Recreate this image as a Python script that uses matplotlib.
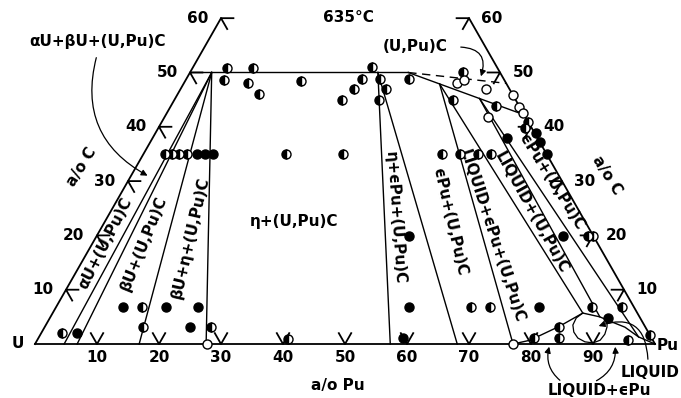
import numpy as np
import matplotlib.pyplot as plt

# U-Pu-C isothermal section at 635 C, compositions in a/o Pu and a/o C
S3 = np.sqrt(3) / 2


def tern(pu, c):
    pu = np.asarray(pu, float)
    c = np.asarray(c, float)
    return pu + c / 2, c * S3


def P(px, py):
    # label placement helper, pixel position -> axes data
    return (px - 35) / 6.2, (344 - py) / 6.27


# experimental points (a/o Pu, a/o C)
half_pu = [5.6, 9.8, 28.8, 6.2, 10.3, 13.1, 18.7, 27.1, 28.0, 28.3, 31.2, 33.1, 33.0, 35.9,
           44.0, 45.0, 52.5, 59.0, 59.1,
           3.5, 4.6, 5.7, 7.0, 23.0, 32.2, 48.1, 51.0, 54.0, 56.0,
           79.2, 80.0, 13.9, 66.9, 70.0, 86.4, 91.3, 15.9, 26.8, 83.0, 3.3,
           79.9, 83.9, 40.4, 95.3, 98.4]
half_c = [50.8, 50.8, 51.0, 48.6, 48.1, 46.0, 48.4, 44.9, 47.0, 48.8, 48.8, 47.0, 44.9, 48.8,
          50.1, 44.9, 43.8, 40.9, 39.8,
          35, 35, 35, 35, 35, 35, 35, 35, 35, 35,
          19.9, 19.9, 6.8, 6.8, 6.8, 6.8, 6.8, 3.1, 3.1, 3.1, 2.0,
          1.1, 1.1, 0.9, 0.7, 1.7]
full_pu = [57.2, 61.3, 62.9, 65.1, 8.6, 9.9, 11.2, 50.4, 75.2, 10.8, 17.7, 22.9, 56.9, 77.9,
           23.4, 90.0, 5.8, 58.8]
full_c = [37.9, 38.9, 37.2, 35.0, 35, 35, 35, 19.9, 19.9, 6.8, 6.8, 6.8, 6.8, 6.8,
          3.1, 4.8, 2.0, 1.1]
open_pu = [44.0, 44.9, 49.2, 52.2, 54.1, 56.3, 57.5, 27.7, 77.1]
open_c = [48.1, 48.6, 47.0, 41.8, 45.9, 43.6, 42.5, 0.0, 0.0]

# phase boundaries: (pu1, c1) -> (pu2, c2)
seg_pu1 = [0.0, 3.5, 3.5, 3.5, 3.5, 30.3, 30.3, 35.2, 41.3, 41.3, 49.1, 49.1]
seg_c1 = [50, 50, 50, 50, 50, 50, 50, 50, 47.9, 47.9, 45.2, 45.2]
seg_pu2 = [35.2, 4.7, 6.8, 16.8, 27.6, 57.3, 68.1, 57.8, 77.1, 85.5, 88.6, 96.7]
seg_c2 = [50, 0, 0, 0, 0, 0, 0, 42.2, 0, 5.7, 5.0, 1.3]
dash_pu = [35.2, 52.0]
dash_c = [50, 48]

# liquid boundary and the small liquid loop
liq_pu = [77.1, 79.5, 83.0, 85.5, 88.6, 90.1, 93.6, 96.7, 100]
liq_c = [0, 0.7, 3.3, 5.7, 5.0, 4.4, 3.1, 1.3, 0]
loop_pu = [85.5, 84.9, 85.0, 85.8, 87.0, 88.5, 89.9, 90.8, 91.0, 90.7, 90.1]
loop_c = [5.7, 4.8, 3.5, 2.2, 1.1, 0.4, 0.2, 0.7, 1.8, 3.1, 4.4]

ticks = [10, 20, 30, 40, 50, 60, 70, 80, 90]
c_ticks = [10, 20, 30, 40, 50, 60]

plt.rcParams['font.weight'] = 'bold'

fig = plt.figure(figsize=(6.81, 3.98), dpi=100)
ax = fig.add_axes([0, 0, 1, 1])
ax.set_xlim(-5.645, 104.19)
ax.set_ylim(-8.61, 54.86)
ax.axis('off')

lk = dict(color='black', lw=1.3)
# edges
ax.plot(*tern([0, 0], [0, 60]), **lk)
ax.plot(*tern([40, 100], [60, 0]), **lk)
ax.plot(*tern([0, 100], [0, 0]), **lk)

for a, b, c, d in zip(seg_pu1, seg_c1, seg_pu2, seg_c2):
    ax.plot(*tern([a, c], [b, d]), color='black', lw=1.0)
ax.plot(*tern(dash_pu, dash_c), color='black', lw=1.0, dashes=(6, 4))
ax.plot(*tern(liq_pu, liq_c), color='black', lw=1.0)
ax.plot(*tern(loop_pu, loop_c), color='black', lw=0.9)

fs = 11
# ticks
tl = 2.0
for t in ticks:
    ax.plot(*tern([t - tl, t, t], [tl, 0, tl]), **lk)
    x, y = tern(t, 0)
    ax.text(x, y - 2.2, str(t), ha='center', va='center', fontsize=fs)
for t in c_ticks:
    ax.plot(*tern([tl, 0, tl], [t, t, t - tl]), **lk)
    x, y = tern(0, t)
    ax.text(x - 2.0, y, str(t), ha='right', va='center', fontsize=fs)
    ax.plot(*tern([100 - t - tl, 100 - t, 100 - t], [t, t, t - tl]), **lk)
    x, y = tern(100 - t, t)
    ax.text(x + 2.0, y, str(t), ha='left', va='center', fontsize=fs)

ms = 6.5
ax.plot(*tern(half_pu, half_c), 'o', ms=ms, mfc='black', mec='black', mew=1.0,
        fillstyle='left', markerfacecoloralt='white', zorder=5)
ax.plot(*tern(full_pu, full_c), 'o', ms=ms, color='black', zorder=5)
ax.plot(*tern(open_pu, open_c), 'o', ms=ms, mfc='white', mec='black', mew=1.0, zorder=5)

tk = dict(ha='center', va='center', fontsize=fs)
ax.text(*P(18, 343), 'U', **tk)
ax.text(*P(657, 345), 'Pu', ha='left', va='center', fontsize=fs)
ax.text(*P(338, 385), 'a/o Pu', **tk)
ax.text(*P(82, 167), 'a/o C', rotation=58, **tk)
ax.text(*P(607, 175), 'a/o C', rotation=-58, **tk)
ax.text(*P(348, 18), '635°C', **tk)
ax.text(*P(97, 42), 'αU+βU+(U,Pu)C', **tk)
ax.text(*P(415, 47), '(U,Pu)C', **tk)
ax.text(*P(294, 222), 'η+(U,Pu)C', **tk)
ax.text(*P(105, 243), 'αU+(U,Pu)C', rotation=63, **tk)
ax.text(*P(144, 243), 'βU+(U,Pu)C', rotation=68, **tk)
ax.text(*P(190, 238), 'βU+η+(U,Pu)C', rotation=77, **tk)
ax.text(*P(395, 218), 'η+ϵPu+(U,Pu)C', rotation=-86, **tk)
ax.text(*P(450, 222), 'ϵPu+(U,Pu)C', rotation=-77, **tk)
ax.text(*P(492, 236), 'LIQUID+ϵPu+(U,Pu)C', rotation=-72, **tk)
ax.text(*P(531, 213), 'LIQUID+(U,Pu)C', rotation=-61, **tk)
ax.text(*P(552, 182), 'ϵPu+(U,Pu)C', rotation=-58, **tk)
ax.text(*P(650, 372), 'LIQUID', **tk)
ax.text(*P(599, 390), 'LIQUID+ϵPu', **tk)

ak = dict(arrowstyle='-|>', color='black', lw=0.9, mutation_scale=9)
ax.annotate('', xy=P(150, 177), xytext=P(97, 55),
            arrowprops=dict(connectionstyle='arc3,rad=0.4', **ak))
ax.annotate('', xy=P(480, 79), xytext=P(458, 47),
            arrowprops=dict(connectionstyle='arc3,rad=-0.7', **ak))
ax.annotate('', xy=P(550, 344), xytext=P(562, 382),
            arrowprops=dict(connectionstyle='arc3,rad=-0.35', **ak))
ax.annotate('', xy=P(615, 344), xytext=P(594, 382),
            arrowprops=dict(connectionstyle='arc3,rad=0.35', **ak))
ax.annotate('', xy=P(596, 327), xytext=P(648, 362),
            arrowprops=dict(connectionstyle='arc3,rad=0.7', **ak))

fig.savefig('out.png', dpi=100)
